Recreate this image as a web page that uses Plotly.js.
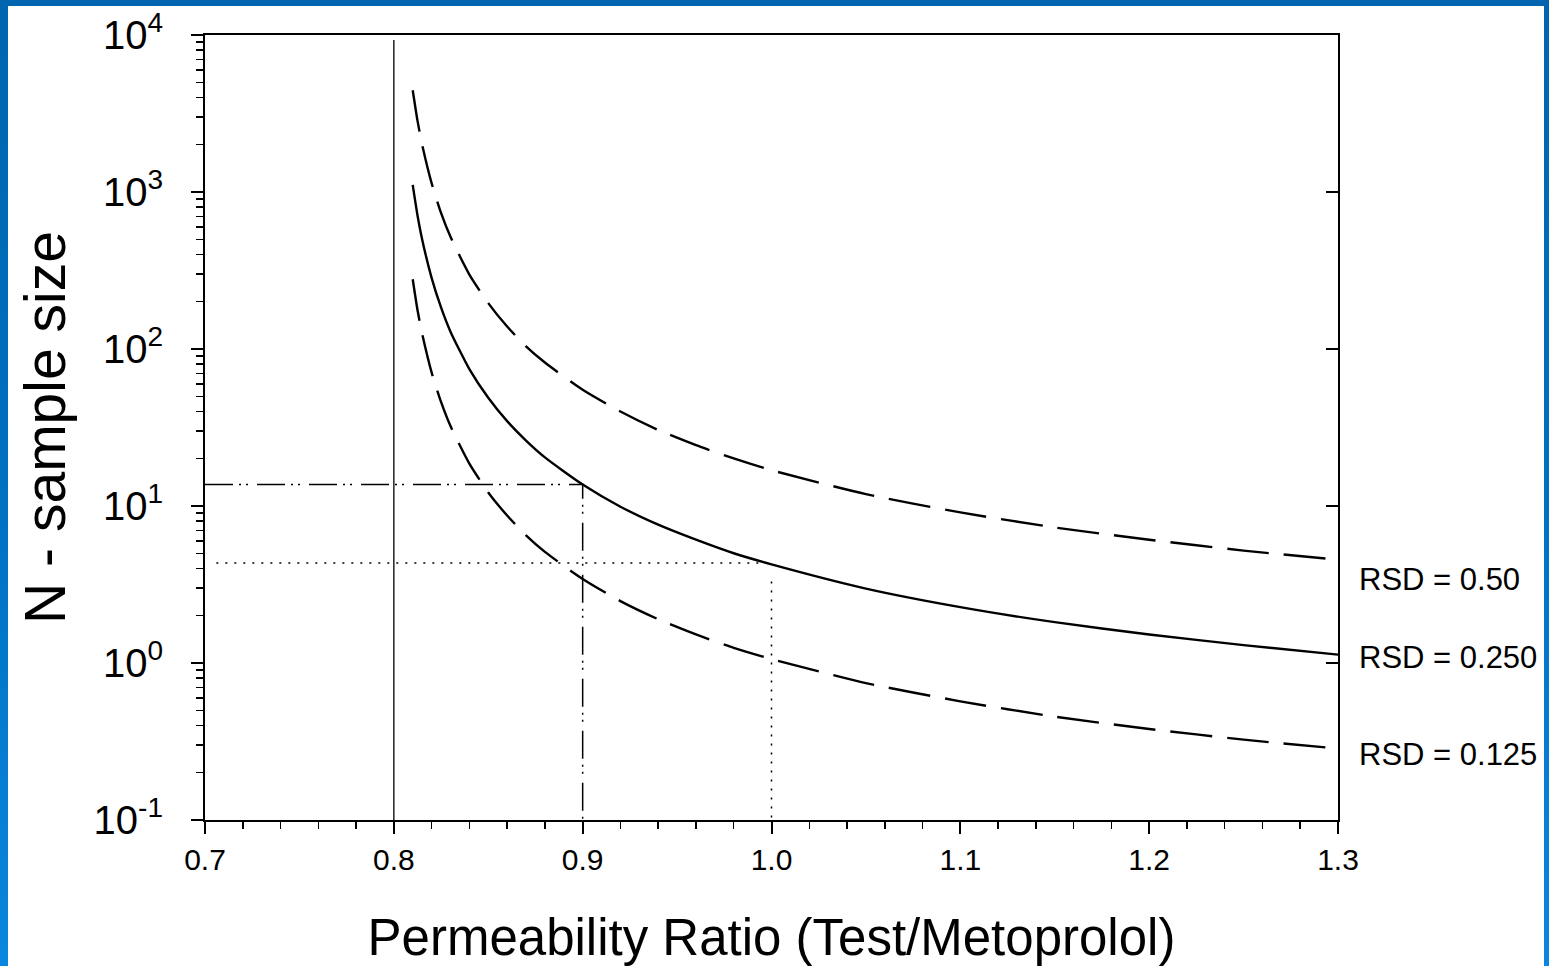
<!DOCTYPE html>
<html>
<head>
<meta charset="utf-8">
<script src="https://cdn.plot.ly/plotly-3.0.1.min.js"></script>
<style>
  html, body { margin: 0; padding: 0; width: 1549px; height: 966px; overflow: hidden;
    background: linear-gradient(to bottom, #0065ae 0%, #0070c0 50%, #0a86de 100%); }
  #chart { position: absolute; left: 8px; top: 6px; width: 1536px; height: 960px; background: #ffffff; }
</style>
</head>
<body>
<div id="chart"></div>
<script>
// Permeability ratio (Test/Metoprolol)
const ratio = [0.81, 0.8125, 0.815, 0.82, 0.825, 0.83, 0.84, 0.85, 0.86, 0.87, 0.88, 0.90, 0.92, 0.94, 0.96, 0.98, 1.00, 1.05, 1.10, 1.15, 1.20, 1.25, 1.30];
// Sample size N for each RSD
const nRsd050  = [4450, 2860, 2000, 1140, 736, 518, 298, 196, 139, 104, 82, 55, 40, 30.5, 24.4, 20.1, 16.9, 11.9, 9.1, 7.3, 6.1, 5.2, 4.55];
const nRsd0250 = [1110, 714, 499, 284, 184, 129, 74.5, 48.9, 34.7, 26.1, 20.4, 13.7, 9.9, 7.6, 6.1, 5.0, 4.25, 2.98, 2.27, 1.82, 1.52, 1.30, 1.13];
const nRsd0125 = [278, 178, 125, 71, 46, 32.3, 18.6, 12.2, 8.7, 6.5, 5.1, 3.43, 2.48, 1.9, 1.52, 1.25, 1.06, 0.745, 0.57, 0.455, 0.38, 0.325, 0.285];

const seriesLabels = ['RSD = 0.50', 'RSD = 0.250', 'RSD = 0.125'];
const labelN = [3.38, 1.08, 0.26];

// Reference lines
const limitRatio = 0.8;          // vertical solid line
const limitTopN = 9300;
const refRatio = [0.9, 1.0];     // dash-dot / dotted verticals
const refN = [13.7, 4.33];       // dash-dot / dotted horizontals
const refDottedTopN = 3.3;
const axisMinX = 0.7, axisMinN = 0.1;

const yTickVals = [0.1, 1, 10, 100, 1000, 10000];
const yTickText = ['10<sup>-1</sup>', '10<sup>0</sup>', '10<sup>1</sup>', '10<sup>2</sup>', '10<sup>3</sup>', '10<sup>4</sup>'];
const xTickVals = [0.7, 0.8, 0.9, 1.0, 1.1, 1.2, 1.3];
const xTickText = ['0.7', '0.8', '0.9', '1.0', '1.1', '1.2', '1.3'];

// minor log ticks 2..9 per decade
const yMinor = [];
for (let d = -1; d < 4; d++) for (let k = 2; k <= 9; k++) yMinor.push(k * Math.pow(10, d));

const FONT = 'Liberation Sans, Arial, Helvetica, sans-serif';
const dashLong = '42px,15px';
const dashDotDot = '28px,6px,2px,5px,2px,9px';
const dotted = '2px,7px';

const traces = [
  { x: ratio, y: nRsd050, mode: 'lines', line: { color: '#000', width: 2.4, dash: dashLong, shape: 'spline', smoothing: 0.6 }, name: seriesLabels[0], hoverinfo: 'x+y' },
  { x: ratio, y: nRsd0250, mode: 'lines', line: { color: '#000', width: 2.4, dash: 'solid', shape: 'spline', smoothing: 0.6 }, name: seriesLabels[1], hoverinfo: 'x+y' },
  { x: ratio, y: nRsd0125, mode: 'lines', line: { color: '#000', width: 2.4, dash: dashLong, shape: 'spline', smoothing: 0.6 }, name: seriesLabels[2], hoverinfo: 'x+y' },
  // vertical limit at 0.8
  { x: [limitRatio, limitRatio], y: [axisMinN, limitTopN], mode: 'lines', line: { color: '#222', width: 1.5 }, hoverinfo: 'skip' },
  // dash-dot-dot reference (0.9)
  { x: [axisMinX, refRatio[0], refRatio[0]], y: [refN[0], refN[0], axisMinN], mode: 'lines', line: { color: '#000', width: 1.5, dash: dashDotDot }, hoverinfo: 'skip' },
  // dotted reference (1.0)
  { x: [axisMinX + 0.006, refRatio[1]], y: [refN[1], refN[1]], mode: 'lines', line: { color: '#000', width: 1.5, dash: dotted }, hoverinfo: 'skip' },
  { x: [refRatio[1], refRatio[1]], y: [refDottedTopN, axisMinN], mode: 'lines', line: { color: '#000', width: 1.5, dash: dotted }, hoverinfo: 'skip' },
  // carrier for right axis
  { x: [axisMinX], y: [axisMinN], yaxis: 'y2', mode: 'markers', marker: { opacity: 0 }, hoverinfo: 'skip' }
];

const annotations = seriesLabels.map((t, i) => ({
  text: t, xref: 'paper', yref: 'y', x: 1.0165, y: Math.log10(labelN[i]),
  xanchor: 'left', yanchor: 'middle', showarrow: false,
  font: { family: FONT, size: 31, color: '#000' }
}));

const layout = {
  width: 1536, height: 960,
  margin: { l: 197, r: 206, t: 29, b: 146 },
  paper_bgcolor: '#ffffff', plot_bgcolor: '#ffffff',
  showlegend: false,
  font: { family: FONT, color: '#000' },
  xaxis: {
    range: [0.7, 1.3], tickvals: xTickVals, ticktext: xTickText,
    ticks: 'outside', ticklen: 12, tickwidth: 2, tickcolor: '#000',
    minor: { dtick: 0.02, tick0: 0.7, ticks: 'outside', ticklen: 7, tickwidth: 1.5, tickcolor: '#000', showgrid: false },
    showline: true, linewidth: 2, linecolor: '#000', mirror: true,
    showgrid: false, zeroline: false,
    tickfont: { family: FONT, size: 30, color: '#000' },
    title: { text: 'Permeability Ratio (Test/Metoprolol)', font: { family: FONT, size: 51, color: '#000' }, standoff: 44 }
  },
  yaxis: {
    type: 'log', range: [-1, 4], tickvals: yTickVals, ticktext: yTickText,
    ticks: 'outside', ticklen: 12, tickwidth: 2, tickcolor: '#000',
    ticklabelstandoff: 20,
    minor: { tickvals: yMinor, ticks: 'outside', ticklen: 7, tickwidth: 1.5, tickcolor: '#000', showgrid: false },
    showline: true, linewidth: 2, linecolor: '#000',
    showgrid: false, zeroline: false,
    tickfont: { family: FONT, size: 40, color: '#000' },
    title: { text: 'N - sample size', font: { family: FONT, size: 57, color: '#000' }, standoff: 10 }
  },
  yaxis2: {
    type: 'log', range: [-1, 4], overlaying: 'y', side: 'right', anchor: 'x',
    tickvals: yTickVals, ticks: 'inside', ticklen: 12, tickwidth: 2, tickcolor: '#000',
    showticklabels: false, showline: true, linewidth: 2, linecolor: '#000',
    showgrid: false, zeroline: false
  },
  annotations: annotations
};

Plotly.newPlot('chart', traces, layout, { displayModeBar: false, staticPlot: true });
</script>
</body>
</html>
